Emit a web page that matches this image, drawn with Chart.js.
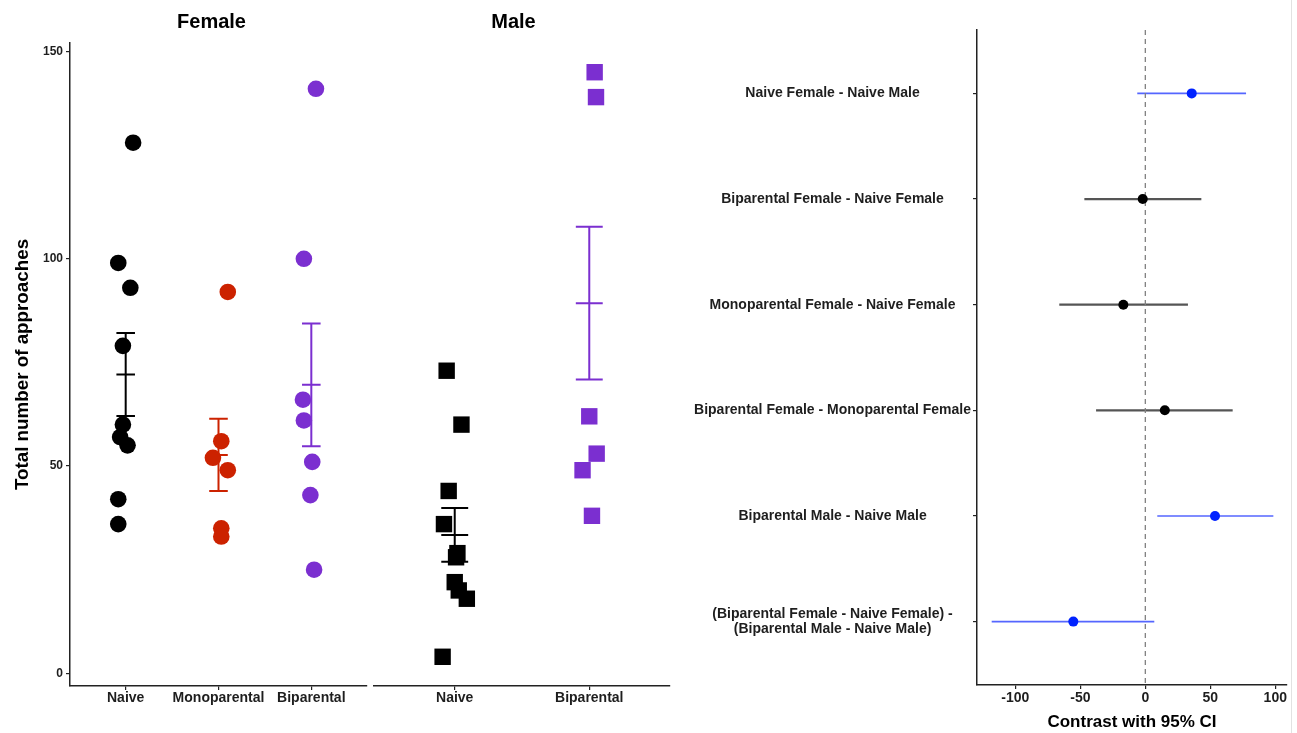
<!DOCTYPE html>
<html>
<head>
<meta charset="utf-8">
<title>Total number of approaches</title>
<script src="https://cdn.jsdelivr.net/npm/chart.js@4.4.1/dist/chart.umd.min.js"></script>
<style>
  html, body { margin: 0; padding: 0; background: #fff; }
  #wrap { position: relative; width: 1297px; height: 733px; overflow: hidden; background: #fff; }
  #wrap canvas { position: absolute; top: 0; }
  #edge { position: absolute; left: 1291px; top: 0; width: 1px; height: 733px; background: #e2e2e2; }
</style>
</head>
<body>
<div id="wrap">
  <canvas id="female" width="423" height="733" style="left:0px"></canvas>
  <canvas id="male" width="315" height="733" style="left:356px"></canvas>
  <canvas id="contrast" width="637" height="733" style="left:660px"></canvas>
  <div id="edge"></div>
</div>
<script>
// ---- data -------------------------------------------------------------
const femaleGroups = ['Naive', 'Monoparental', 'Biparental'];
const maleGroups = ['Naive', 'Biparental'];
const approachTicks = [0, 50, 100, 150];

const femaleNaive = [128, 99, 93, 79, 60, 57, 55, 42, 36];
const femaleMono = [92, 56, 52, 49, 35, 33];
const femaleBi = [141, 100, 66, 61, 51, 43, 25];
const maleNaive = [73, 60, 44, 36, 29, 28, 22, 20, 18, 4];
const maleBi = [145, 139, 62, 53, 49, 38];

const femaleMean = [72.1, 52.7, 69.6];
const femaleSE = [10.0, 8.7, 14.8];
const maleMean = [33.4, 89.3];
const maleSE = [6.5, 18.4];

const contrastLabels = [
  'Naive Female - Naive Male',
  'Biparental Female - Naive Female',
  'Monoparental Female - Naive Female',
  'Biparental Female - Monoparental Female',
  'Biparental Male - Naive Male',
  '(Biparental Female - Naive Female) -\n(Biparental Male - Naive Male)'
];
const contrastEstimate = [35.7, -2.0, -16.9, 15.0, 53.6, -55.4];
const contrastLower = [-6.2, -46.9, -66.2, -37.9, 9.2, -118.2];
const contrastUpper = [77.5, 43.1, 32.8, 67.2, 98.5, 6.9];
const contrastFamily = ['sex', 'female', 'female', 'female', 'male', 'sex'];
const contrastTicks = [-100, -50, 0, 50, 100];

// ---- display settings ------------------------------------------------
// horizontal jitter of the dots inside each group (category units)
const femaleNaiveJitter = [0.08, -0.08, 0.05, -0.03, -0.03, -0.06, 0.02, -0.08, -0.08];
const femaleMonoJitter = [0.10, 0.03, -0.06, 0.10, 0.03, 0.03];
const femaleBiJitter = [0.05, -0.08, -0.09, -0.08, 0.01, -0.01, 0.03];
const maleNaiveJitter = [-0.06, 0.05, -0.045, -0.08, 0.02, 0.01, 0.0, 0.03, 0.09, -0.09];
const maleBiJitter = [0.04, 0.05, 0.0, 0.055, -0.05, 0.02];

const FONT = "'Liberation Sans', Arial, Helvetica, sans-serif";
const TEXT = '#1e1e1e';
const AXIS = '#222222';
const groupColor = { Naive: '#000000', Monoparental: '#CC2200', Biparental: '#7B2FD0' };
const familyColor = {
  sex: { dot: '#0022FF', line: '#5566FF' },
  male: { dot: '#0022FF', line: '#5566FF' },
  female: { dot: '#000000', line: '#555555' }
};

const bold = (size, lineHeight) => ({ family: FONT, size, weight: 'bold', lineHeight: lineHeight || 1.2 });

function jittered(values, jitter, pos) {
  return values.map((v, i) => ({ x: pos + jitter[i], y: v }));
}

// mean ± SE bars drawn through the chart scales
function errorBarPlugin(means, se, groups) {
  return {
    id: 'errorBars',
    afterDatasetsDraw(chart) {
      const { ctx, scales: { x, y } } = chart;
      ctx.save();
      ctx.lineWidth = 2;
      means.forEach((m, i) => {
        const cx = x.getPixelForValue(i + 1);
        const half = x.getPixelForValue(i + 1.1) - cx;
        const top = y.getPixelForValue(m + se[i]);
        const mid = y.getPixelForValue(m);
        const bot = y.getPixelForValue(m - se[i]);
        ctx.strokeStyle = groupColor[groups[i]];
        ctx.beginPath();
        ctx.moveTo(cx, top); ctx.lineTo(cx, bot);
        [top, mid, bot].forEach(py => { ctx.moveTo(cx - half, py); ctx.lineTo(cx + half, py); });
        ctx.stroke();
      });
      ctx.restore();
    }
  };
}

function groupDataset(values, jitter, pos, group, shape) {
  return {
    data: jittered(values, jitter, pos),
    pointStyle: shape,
    pointRadius: shape === 'rect' ? 11.6 : 8.3,
    pointBackgroundColor: groupColor[group],
    pointBorderColor: groupColor[group],
    pointBorderWidth: 0,
    showLine: false
  };
}

function approachY(visible) {
  return {
    type: 'linear',
    display: visible,
    min: -3.05,
    max: 152.05,
    afterBuildTicks: s => { s.ticks = approachTicks.map(v => ({ value: v })); },
    afterFit: s => { if (visible) s.width = 70; },
    grid: { display: true, drawOnChartArea: false, drawTicks: true, tickLength: 4, color: AXIS, lineWidth: 1.2 },
    border: { display: true, color: AXIS, width: 1.5 },
    ticks: { color: TEXT, font: bold(12), padding: 3 },
    title: { display: visible, text: 'Total number of approaches', color: '#000', font: bold(18.8), padding: { top: 12, bottom: 0 } }
  };
}

// side space kept beside each panel's x axis
function groupX(groups, padLeft, padRight) {
  return {
    type: 'linear',
    min: 0.4,
    max: groups.length + 0.6,
    afterBuildTicks: s => { s.ticks = groups.map((_, i) => ({ value: i + 1 })); },
    afterFit: s => { s.height = 47; s.paddingLeft = padLeft; s.paddingRight = padRight; },
    grid: { display: true, drawOnChartArea: false, drawTicks: true, tickLength: 4, color: AXIS, lineWidth: 1.2 },
    border: { display: true, color: AXIS, width: 1.5 },
    ticks: { color: TEXT, font: bold(14), padding: 0, autoSkip: false, maxRotation: 0, callback: (v, i) => groups[i] }
  };
}

function panelTitle(text) {
  return { display: true, text, color: '#000', font: bold(20), padding: { top: 10, bottom: 9 } };
}

const common = { responsive: false, animation: false, devicePixelRatio: 1, events: [] };

// ---- Female panel ----------------------------------------------------
new Chart(document.getElementById('female'), {
  type: 'scatter',
  data: {
    datasets: [
      groupDataset(femaleNaive, femaleNaiveJitter, 1, 'Naive', 'circle'),
      groupDataset(femaleMono, femaleMonoJitter, 2, 'Monoparental', 'circle'),
      groupDataset(femaleBi, femaleBiJitter, 3, 'Biparental', 'circle')
    ]
  },
  options: {
    ...common,
    layout: { padding: 0, autoPadding: false },
    scales: { x: groupX(femaleGroups, 0, 56), y: approachY(true) },
    plugins: { legend: { display: false }, tooltip: { enabled: false }, title: panelTitle('Female') }
  },
  plugins: [errorBarPlugin(femaleMean, femaleSE, femaleGroups)]
});

// ---- Male panel ------------------------------------------------------
new Chart(document.getElementById('male'), {
  type: 'scatter',
  data: {
    datasets: [
      groupDataset(maleNaive, maleNaiveJitter, 1, 'Naive', 'rect'),
      groupDataset(maleBi, maleBiJitter, 2, 'Biparental', 'rect')
    ]
  },
  options: {
    ...common,
    layout: { padding: 0, autoPadding: false },
    scales: { x: groupX(maleGroups, 18, 1), y: approachY(false) },
    plugins: { legend: { display: false }, tooltip: { enabled: false }, title: panelTitle('Male') }
  },
  plugins: [errorBarPlugin(maleMean, maleSE, maleGroups)]
});

// ---- Contrast panel --------------------------------------------------
const intervalPlugin = {
  id: 'intervals',
  beforeDatasetsDraw(chart) {
    const { ctx, scales: { x, y }, chartArea } = chart;
    ctx.save();
    contrastEstimate.forEach((_, i) => {
      const fam = familyColor[contrastFamily[i]];
      const py = y.getPixelForValue(i + 1);
      ctx.strokeStyle = fam.line;
      ctx.lineWidth = contrastFamily[i] === 'female' ? 2.2 : 1.6;
      ctx.beginPath();
      ctx.moveTo(x.getPixelForValue(contrastLower[i]), py);
      ctx.lineTo(x.getPixelForValue(contrastUpper[i]), py);
      ctx.stroke();
    });
    // reference line at zero
    const zx = x.getPixelForValue(0);
    ctx.strokeStyle = '#808080';
    ctx.lineWidth = 1.3;
    ctx.setLineDash([5, 4]);
    ctx.beginPath();
    ctx.moveTo(zx, chartArea.top);
    ctx.lineTo(zx, chartArea.bottom);
    ctx.stroke();
    ctx.restore();
  }
};

new Chart(document.getElementById('contrast'), {
  type: 'scatter',
  data: {
    datasets: [{
      data: contrastEstimate.map((e, i) => ({ x: e, y: i + 1 })),
      pointStyle: 'circle',
      pointRadius: 5,
      pointBorderWidth: 0,
      pointBackgroundColor: contrastFamily.map(f => familyColor[f].dot),
      showLine: false
    }]
  },
  options: {
    ...common,
    layout: { padding: { left: 0, right: 10, top: 30, bottom: 0 }, autoPadding: false },
    scales: {
      x: {
        type: 'linear',
        min: -129.5,
        max: 109,
        afterBuildTicks: s => { s.ticks = contrastTicks.map(v => ({ value: v })); },
        afterFit: s => { s.height = 48; },
        grid: { display: true, drawOnChartArea: false, drawTicks: true, tickLength: 4, color: AXIS, lineWidth: 1.2 },
        border: { display: true, color: AXIS, width: 1.5 },
        ticks: { color: TEXT, font: bold(14), padding: 1, autoSkip: false, maxRotation: 0 },
        title: { display: true, text: 'Contrast with 95% CI', color: '#000', font: bold(17), padding: { top: 0, bottom: 0 } }
      },
      y: {
        type: 'linear',
        reverse: true,
        min: 0.4,
        max: 6.6,
        afterBuildTicks: s => { s.ticks = contrastLabels.map((_, i) => ({ value: i + 1 })); },
        afterFit: s => { s.width = 317; },
        grid: { display: true, drawOnChartArea: false, drawTicks: true, tickLength: 4, color: AXIS, lineWidth: 1.2 },
        border: { display: true, color: AXIS, width: 1.5 },
        ticks: { color: TEXT, font: bold(14, 1.05), padding: 2, autoSkip: false, crossAlign: 'center', callback: (v, i) => contrastLabels[i].split('\n') }
      }
    },
    plugins: { legend: { display: false }, tooltip: { enabled: false } }
  },
  plugins: [intervalPlugin]
});
</script>
</body>
</html>
